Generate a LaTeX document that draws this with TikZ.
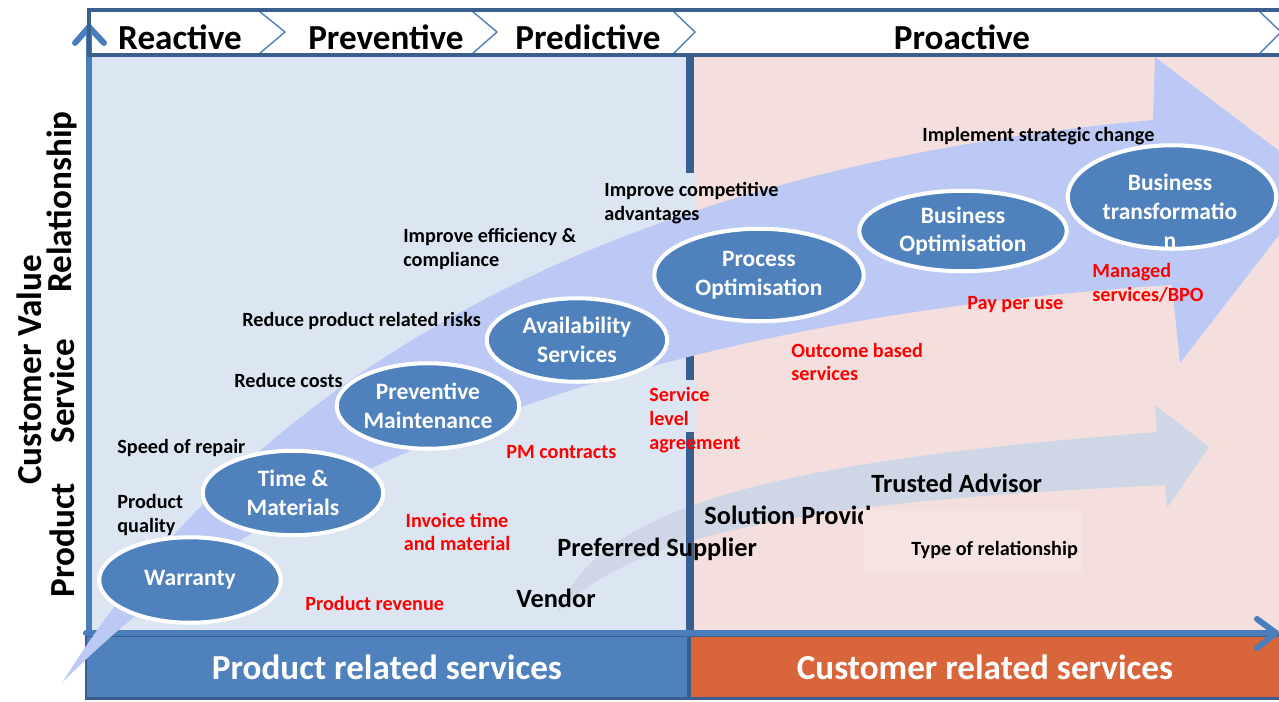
\documentclass[tikz,border=0pt]{standalone}
\usepackage{fontspec}
\setmainfont{Carlito}
\usetikzlibrary{shapes.geometric}

\definecolor{bgblue}{HTML}{DCE6F2}
\definecolor{bgpink}{HTML}{F4DFDE}
\definecolor{stageblue}{HTML}{4F81BD}
\definecolor{frameblue}{HTML}{3A5F8E}
\definecolor{axisblue}{HTML}{4A7EBB}
\definecolor{lilac}{HTML}{BDC9F5}
\definecolor{greyarrow}{HTML}{CFD7E7}
\definecolor{bandorange}{HTML}{D9653B}
\definecolor{typepink}{HTML}{F6E4E3}

\tikzset{
    stagetext/.style={text=white, align=center, inner sep=0pt,
        font=\fontsize{13.4}{16.4}\selectfont\bfseries},
    stage/.style={ellipse, fill=stageblue, draw=white, line width=2.3pt, stagetext},
    lbl/.style={anchor=west, inner sep=0pt, align=left, font=\fontsize{11.5}{13.6}\selectfont\bfseries},
    redlbl/.style={lbl, text=red},
    rel/.style={anchor=west, inner sep=0pt, font=\fontsize{15}{18}\selectfont\bfseries},
    phase/.style={inner sep=0pt, font=\fontsize{20}{24}\selectfont\bfseries},
    band/.style={draw=frameblue, line width=1.2pt, text=white, inner sep=0pt,
        minimum height=1.26cm, font=\fontsize{20}{24}\selectfont\bfseries},
    axis/.style={draw=axisblue, line width=3.4pt, line cap=round, line join=round},
    chev/.style={draw=stageblue, line width=0.8pt}
}

\begin{document}
\begin{tikzpicture}[x=0.02cm, y=-0.02cm]
    \useasboundingbox (0,0) rectangle (1279,701);
    \clip (0,0) rectangle (1279,701);

    % backgrounds
    \fill[bgblue] (89,55) rectangle (690,633);
    \fill[bgpink] (690,55) rectangle (1279,633);

    % relationship arrow
    \fill[greyarrow] (557,613) .. controls (600,500) and (800,460) .. (1157,432)
        -- (1155,405) -- (1209,447) -- (1167,508) -- (1165,485)
        .. controls (850,500) and (640,525) .. (557,613) -- cycle;

    % divider
    \draw[frameblue, line width=4pt] (690,55) -- (690,636);
    \fill[bgblue] (684,173) rectangle (695,228);
    \fill[bgblue] (684,380) rectangle (695,432);

    % bottom bands
    \node[band, fill=stageblue, minimum width=12.04cm] (prodband) at (387,667) {Product related services};
    \node[band, fill=bandorange, minimum width=11.8cm] (custband) at (985,667) {Customer related services};

    % header
    \fill[white] (89,10) rectangle (1279,55);

    % axes
    \draw[axis] (89,632) -- (89,27);
    \draw[axis] (75,43) -- (89,27) -- (104,43);
    \draw[axis] (86,633) -- (1276,633);
    \draw[axis] (1257,619) -- (1276,633) -- (1257,648);

    % value arrow
    \fill[lilac] (62,683) .. controls (250,380) and (600,170) .. (1153,120)
        -- (1155,57) -- (1320,182) -- (1180,363) -- (1172,285)
        .. controls (700,315) and (300,440) .. (62,683) -- cycle;

    % header chevrons and frame
    \draw[chev] (259,11) -- (285,32) -- (259,54);
    \draw[chev] (472,11) -- (497,32) -- (472,54);
    \draw[chev] (673,11) -- (695,32) -- (673,54);
    \draw[chev] (1259,11) -- (1281,32) -- (1259,54);
    \draw[frameblue, line width=2.8pt] (1279,10) -- (89,10) -- (89,55) -- (1279,55);

    \node[phase] (reactive) at (180,37) {Reactive};
    \node[phase] (preventive) at (386,37) {Preventive};
    \node[phase] (predictive) at (588,37) {Predictive};
    \node[phase] (proactive) at (962,37) {Proactive};

    % vertical axis labels
    \node[phase, rotate=90] (custvalue) at (29,370) {Customer Value};
    \node[phase, rotate=90] (product) at (62,540) {Product};
    \node[phase, rotate=90] (service) at (62,391) {Service};
    \node[phase, rotate=90] (relation) at (62,202) {Relationship};

    % stages
    \node[stage, minimum width=3.63cm, minimum height=1.71cm] (warranty) at (190,580) {Warranty};
    \node[stage, minimum width=3.61cm, minimum height=1.69cm] (timemat) at (293,493) {Time \&\\Materials};
    \node[stage, minimum width=3.65cm, minimum height=1.71cm] (prevmaint) at (428,406) {Preventive\\Maintenance};
    \node[stage, minimum width=3.61cm, minimum height=1.67cm] (avail) at (577,340) {Availability\\Services};
    \node[stage, minimum width=4.19cm, minimum height=1.85cm] (procopt) at (759,275) {Process\\Optimisation};
    \node[stage, minimum width=4.15cm, minimum height=1.61cm] (busopt) at (963,231) {Business\\Optimisation};
    \node[stage, minimum width=4.17cm, minimum height=2.07cm] (bustrans) at (1172,197) {};
    \node[stagetext] (bustranstext) at (1170,211) {Business\\transformatio\\n};

    % customer value
    \node[lbl] (strategic) at (922,136) {Implement strategic change};
    \node[lbl] (competitive) at (604,203) {Improve competitive\\advantages};
    \node[lbl] (efficiency) at (403,249) {Improve efficiency \&\\compliance};
    \node[lbl] (risks) at (242,321) {Reduce product related risks};
    \node[lbl] (costs) at (234,380) {Reduce costs};
    \node[lbl] (repair) at (117,448) {Speed of repair};
    \node[lbl] (quality) at (117,515) {Product\\quality};

    % revenue models
    \node[redlbl] (managed) at (1092,283) {Managed\\services/BPO};
    \node[redlbl] (payuse) at (967,305) {Pay per use};
    \node[redlbl] (outcome) at (791,362) {Outcome based\\services};
    \node[redlbl] (sla) at (649,420) {Service\\level\\agreement};
    \node[redlbl] (pmcontracts) at (506,452) {PM contracts};
    \node[redlbl, anchor=center, align=center] (invoice) at (457,532) {Invoice time\\and material};
    \node[redlbl] (revenue) at (305,603) {Product revenue};

    % relationships
    \node[rel] (vendor) at (516,598) {Vendor};
    \node[rel] (preferred) at (557,549) {Preferred Supplier};
    \node[rel] (solution) at (704,515) {Solution Provider};
    \node[rel] (trusted) at (871,483) {Trusted Advisor};
    \fill[typepink] (863,510) rectangle (1082,573);
    \node[lbl] (reltype) at (911,550) {Type of relationship};
\end{tikzpicture}
\end{document}
